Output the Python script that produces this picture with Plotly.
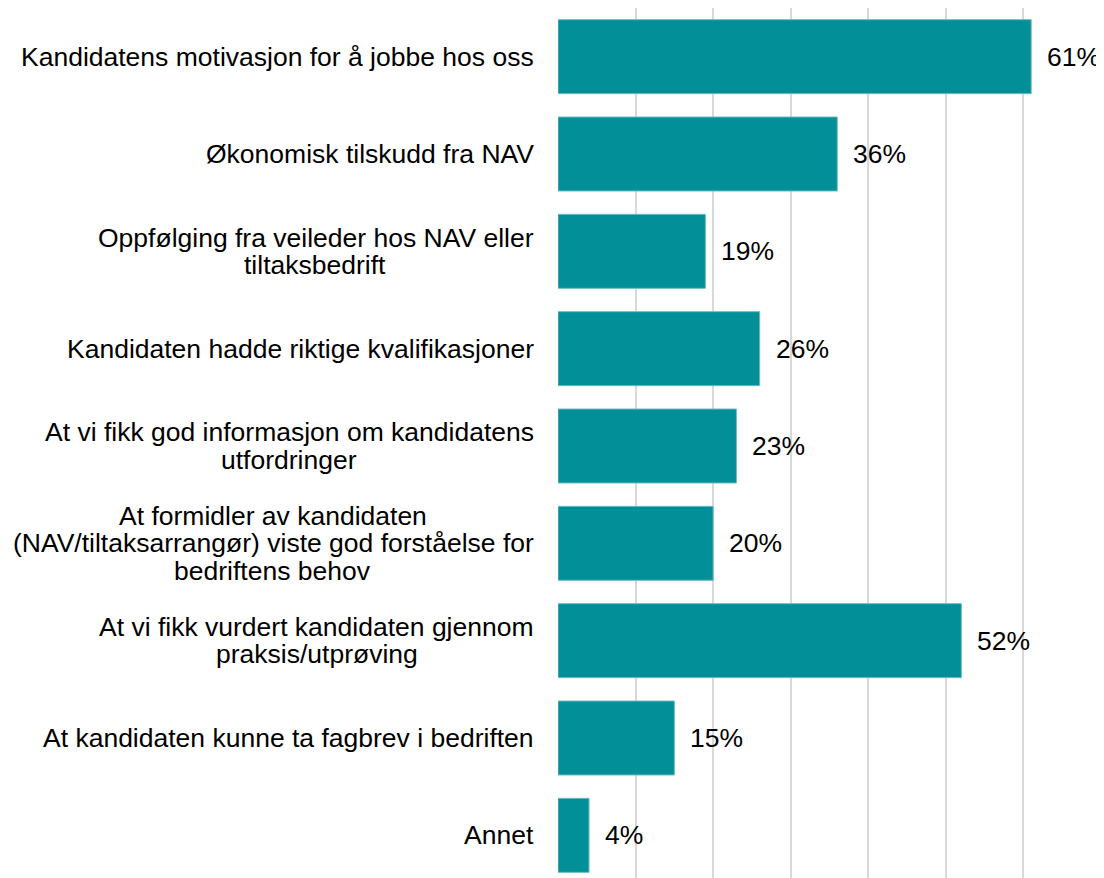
import plotly.graph_objects as go

categories = [
    "Kandidatens motivasjon for å jobbe hos oss",
    "Økonomisk tilskudd fra NAV",
    "Oppfølging fra veileder hos NAV eller<br>tiltaksbedrift",
    "Kandidaten hadde riktige kvalifikasjoner",
    "At vi fikk god informasjon om kandidatens<br>utfordringer",
    "At formidler av kandidaten<br>(NAV/tiltaksarrangør) viste god forståelse for<br>bedriftens behov",
    "At vi fikk vurdert kandidaten gjennom<br>praksis/utprøving",
    "At kandidaten kunne ta fagbrev i bedriften",
    "Annet",
]
values = [61, 36, 19, 26, 23, 20, 52, 15, 4]
value_labels = [f"{v}%" for v in values]

bar_color = "#028f98"
font = "Liberation Sans, Arial, Helvetica, sans-serif"
fs = 26.5
line_gap = 27.5  # tighter line spacing than plotly's 1.3em

# rough Arial/Liberation advance widths (1/1000 em), used only to centre wrapped label lines
ARIAL = {
    " ": 278, "a": 556, "b": 556, "c": 500, "d": 556, "e": 556, "f": 278, "g": 556,
    "h": 556, "i": 222, "j": 222, "k": 500, "l": 222, "m": 833, "n": 556, "o": 556,
    "p": 556, "q": 556, "r": 333, "s": 500, "t": 278, "u": 556, "v": 500, "w": 722,
    "x": 500, "y": 500, "z": 500, "å": 556, "ø": 611, "æ": 889,
    "A": 667, "K": 667, "N": 722, "O": 778, "V": 667, "Ø": 778,
    "(": 333, ")": 333, "/": 278,
}


def text_width(s):
    return sum(ARIAL.get(ch, 556) for ch in s) * fs / 1000.0


fig = go.Figure(go.Bar(
    x=values,
    y=categories,
    orientation="h",
    marker=dict(color=bar_color, line=dict(color="#6cbcc1", width=1)),
    width=0.76,
    hoverinfo="x+y",
))

# category labels: one annotation per line, lines centred on each other,
# block right-aligned against the plot
for cat in categories:
    lines = cat.split("<br>")
    n = len(lines)
    widths = [text_width(ln) for ln in lines]
    wmax = max(widths)
    for i, ln in enumerate(lines):
        fig.add_annotation(
            x=0, y=cat, xref="paper", yref="y",
            text=ln, showarrow=False,
            xanchor="right", yanchor="middle",
            xshift=-22 - (wmax - widths[i]) / 2,
            yshift=-(i - (n - 1) / 2) * line_gap,
            font=dict(family=font, size=fs, color="#000000"),
        )

# value labels to the right of each bar
for cat, v, lab in zip(categories, values, value_labels):
    fig.add_annotation(
        x=v, y=cat, xref="x", yref="y",
        text=lab, showarrow=False,
        xanchor="left", yanchor="middle",
        xshift=14,
        font=dict(family=font, size=fs, color="#000000"),
    )

fig.update_layout(
    width=1096,
    height=876,
    margin=dict(l=550, r=3, t=0, b=0),
    plot_bgcolor="white",
    paper_bgcolor="white",
    showlegend=False,
    font=dict(family=font, size=fs, color="#000000"),
    xaxis=dict(
        range=[0, 70],
        dtick=10,
        showticklabels=False,
        showgrid=True,
        gridcolor="#d9d9d9",
        gridwidth=2,
        zeroline=False,
        showline=False,
        fixedrange=True,
    ),
    yaxis=dict(
        type="category",
        range=[8.5, -0.5],
        showticklabels=False,
        showgrid=False,
        zeroline=False,
        showline=False,
        fixedrange=True,
    ),
)

fig.write_html("out.html")
